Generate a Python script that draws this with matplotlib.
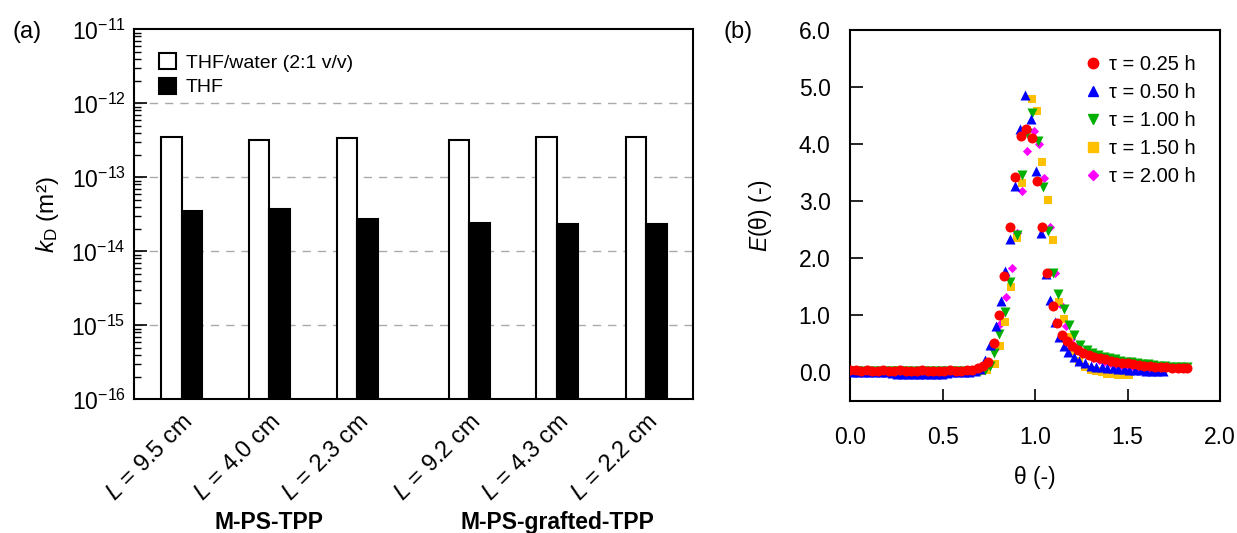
import numpy as np
import matplotlib
matplotlib.use("Agg")
import matplotlib.pyplot as plt
from matplotlib.lines import Line2D
from matplotlib.transforms import blended_transform_factory

plt.rcParams['font.family'] = ['Liberation Sans', 'DejaVu Sans']
plt.rcParams['mathtext.fontset'] = 'custom'
plt.rcParams['mathtext.rm'] = 'Liberation Sans'
plt.rcParams['mathtext.it'] = 'Liberation Sans:italic'
plt.rcParams['mathtext.bf'] = 'Liberation Sans:bold'

# (a) permeability data
lengths = ["9.5", "4.0", "2.3", "9.2", "4.3", "2.2"]
kd_mixed = [3.5e-13, 3.2e-13, 3.4e-13, 3.2e-13, 3.5e-13, 3.5e-13]
kd_thf = [3.5e-14, 3.7e-14, 2.7e-14, 2.4e-14, 2.3e-14, 2.3e-14]
groups = ["M-PS-TPP", "M-PS-grafted-TPP"]

# (b) residence time distribution data
red_theta = [0.00, 0.03, 0.06, 0.09, 0.12, 0.15, 0.18, 0.21, 0.24, 0.27, 0.30, 0.33, 0.36,
             0.39, 0.42, 0.45, 0.48, 0.51, 0.54, 0.57, 0.60, 0.63, 0.66, 0.69, 0.72,
             0.747, 0.779, 0.806, 0.833, 0.862, 0.890, 0.922, 0.950, 0.981, 1.008, 1.036,
             1.065, 1.096, 1.121, 1.146,
             1.17, 1.20, 1.23, 1.26, 1.29, 1.32, 1.35, 1.38, 1.41, 1.44, 1.47, 1.50, 1.53,
             1.56, 1.59, 1.62, 1.65, 1.68, 1.71, 1.74, 1.77, 1.80, 1.82]
red_E = [0.04, 0.04, 0.03, 0.04, 0.03, 0.03, 0.04, 0.03, 0.03, 0.04, 0.03, 0.03, 0.03,
         0.04, 0.03, 0.03, 0.03, 0.03, 0.04, 0.03, 0.03, 0.04, 0.05, 0.07, 0.11,
         0.19, 0.51, 1.00, 1.70, 2.56, 3.43, 4.15, 4.28, 4.11, 3.36, 2.55,
         1.74, 1.16, 0.86, 0.65,
         0.55, 0.46, 0.40, 0.35, 0.31, 0.28, 0.25, 0.23, 0.21, 0.19, 0.17, 0.16, 0.15,
         0.13, 0.12, 0.11, 0.10, 0.10, 0.09, 0.08, 0.08, 0.07, 0.07]

blue_theta = [0.015, 0.045, 0.075, 0.105, 0.135, 0.165, 0.195, 0.225, 0.255, 0.285, 0.315,
              0.345, 0.375, 0.405, 0.435, 0.465, 0.495, 0.525, 0.555, 0.585, 0.615, 0.645,
              0.675, 0.705,
              0.729, 0.758, 0.788, 0.814, 0.838, 0.864, 0.891, 0.916, 0.948, 0.977, 1.003,
              1.031, 1.060, 1.083, 1.107, 1.131, 1.155,
              1.18, 1.21, 1.24, 1.27, 1.30, 1.33, 1.36, 1.39, 1.42, 1.45, 1.48, 1.51, 1.54,
              1.57, 1.60, 1.63, 1.66, 1.69]
blue_E = [0.01, 0.01, 0.00, 0.00, 0.01, 0.00, 0.00, -0.01, -0.02, -0.02, -0.02,
          -0.03, -0.02, -0.03, -0.03, -0.03, -0.02, -0.01, 0.00, 0.00, 0.01, 0.01,
          0.02, 0.06,
          0.22, 0.48, 0.81, 1.25, 1.78, 2.35, 3.28, 4.27, 4.86, 4.44, 3.54,
          2.44, 1.72, 1.27, 0.89, 0.63, 0.47,
          0.36, 0.27, 0.20, 0.16, 0.12, 0.10, 0.09, 0.08, 0.07, 0.06, 0.06, 0.05, 0.04,
          0.04, 0.03, 0.03, 0.02, 0.02]

green_theta = [0.01, 0.04, 0.07, 0.10, 0.13, 0.16, 0.19, 0.22, 0.25, 0.28, 0.31, 0.34, 0.37,
               0.40, 0.43, 0.46, 0.49, 0.52, 0.55, 0.58, 0.61, 0.64, 0.67, 0.70, 0.73,
               0.755, 0.779, 0.806, 0.837, 0.867, 0.900, 0.927, 0.954, 0.981, 1.017, 1.045,
               1.070, 1.097, 1.125, 1.155, 1.184, 1.209, 1.245,
               1.28, 1.31, 1.34, 1.37, 1.40, 1.43, 1.46, 1.49, 1.52, 1.55, 1.58, 1.61, 1.64,
               1.67, 1.70, 1.73, 1.76, 1.79, 1.82]
green_E = [0.02, 0.02, 0.02, 0.03, 0.02, 0.02, 0.02, 0.02, 0.03, 0.02, 0.02, 0.02, 0.02,
           0.02, 0.02, 0.02, 0.02, 0.02, 0.02, 0.02, 0.02, 0.02, 0.02, 0.03, 0.05,
           0.12, 0.34, 0.67, 1.06, 1.58, 2.42, 3.46, 4.20, 4.56, 4.06, 3.26,
           2.49, 1.75, 1.38, 1.12, 0.83, 0.65, 0.48,
           0.40, 0.35, 0.31, 0.28, 0.26, 0.23, 0.21, 0.19, 0.18, 0.16, 0.15, 0.14, 0.13,
           0.12, 0.11, 0.10, 0.10, 0.09, 0.09]

gold_theta = [0.02, 0.05, 0.08, 0.11, 0.14, 0.17, 0.20, 0.23, 0.26, 0.29, 0.32, 0.35, 0.38,
              0.41, 0.44, 0.47, 0.50, 0.53, 0.56, 0.59, 0.62, 0.65, 0.68, 0.71, 0.74,
              0.782, 0.810, 0.837, 0.868, 0.905, 0.932, 0.959, 0.986, 1.013, 1.038, 1.069,
              1.098, 1.128, 1.155, 1.183,
              1.21, 1.24, 1.27, 1.30, 1.33, 1.36, 1.39, 1.42, 1.45, 1.48, 1.51]
gold_E = [0.03, 0.03, 0.03, 0.03, 0.03, 0.03, 0.03, 0.03, 0.04, 0.03, 0.03, 0.03, 0.03,
          0.03, 0.03, 0.03, 0.03, 0.02, 0.02, 0.02, 0.02, 0.02, 0.02, 0.03, 0.05,
          0.15, 0.46, 0.89, 1.50, 2.36, 3.32, 4.25, 4.80, 4.59, 3.70, 3.02,
          2.32, 1.23, 0.93, 0.62,
          0.38, 0.20, 0.10, 0.05, 0.02, 0.00, -0.02, -0.03, -0.04, -0.04, -0.04]

magenta_theta = [0.025, 0.055, 0.085, 0.115, 0.145, 0.175, 0.205, 0.235, 0.265, 0.295, 0.325,
                 0.355, 0.385, 0.415, 0.445, 0.475, 0.505, 0.535, 0.565, 0.595, 0.625,
                 0.655, 0.685, 0.715,
                 0.752, 0.782, 0.812, 0.842, 0.873, 0.902, 0.931, 0.959, 0.993, 1.019,
                 1.047, 1.080, 1.107, 1.135, 1.165, 1.195,
                 1.225, 1.255, 1.285, 1.315, 1.345, 1.375, 1.405, 1.435, 1.465, 1.495,
                 1.525, 1.555, 1.585, 1.615]
magenta_E = [0.03, 0.03, 0.03, 0.03, 0.03, 0.03, 0.03, 0.03, 0.03, 0.03, 0.03,
             0.03, 0.03, 0.03, 0.03, 0.03, 0.03, 0.03, 0.03, 0.03, 0.03,
             0.03, 0.04, 0.06,
             0.15, 0.42, 0.85, 1.32, 1.83, 2.45, 3.19, 3.89, 4.23, 4.00,
             3.42, 2.55, 1.75, 1.20, 0.82, 0.58,
             0.45, 0.36, 0.30, 0.26, 0.22, 0.19, 0.17, 0.15, 0.13, 0.12,
             0.11, 0.10, 0.09, 0.08]

tau_labels = ["τ = 0.25 h", "τ = 0.50 h", "τ = 1.00 h", "τ = 1.50 h", "τ = 2.00 h"]

fig = plt.figure(figsize=(12.37, 5.33), dpi=100)
ax1 = fig.add_axes([0.1083, 0.2508, 0.4519, 0.6942])
ax2 = fig.add_axes([0.6872, 0.2477, 0.2991, 0.6951])

# ---- panel (a)
pos = np.array([0, 1, 2, 3.28, 4.28, 5.3])
w = 0.235
ax1.bar(pos - w / 2, kd_mixed, w, color='white', edgecolor='black', linewidth=1.5,
        zorder=3, bottom=1e-16, label="THF/water (2:1 v/v)")
ax1.bar(pos + w / 2, kd_thf, w, color='black', edgecolor='black', linewidth=1.5,
        zorder=3, bottom=1e-16, label="THF")
ax1.set_yscale('log')
ax1.set_ylim(1e-16, 1e-11)
ax1.set_xlim(-0.545, 5.83)
for yv in [1e-12, 1e-13, 1e-14, 1e-15]:
    ax1.axhline(yv, color='#aaaaaa', linestyle=(0, (6, 5)), linewidth=1.0, zorder=1)
ax1.set_xticks(pos)
ax1.set_xticklabels([r"$L$ = " + s + " cm" for s in lengths], rotation=45,
                    ha='right', rotation_mode='anchor', fontsize=17)
ax1.tick_params(axis='x', length=0, pad=8)
ax1.tick_params(axis='y', which='major', direction='in', length=9, width=1.2,
                labelsize=16.5, pad=6)
ax1.tick_params(axis='y', which='minor', direction='in', length=5, width=1.0)
ax1.set_ylabel(r"$k_{\mathrm{D}}$ (m²)", fontsize=17.5)
ax1.yaxis.set_label_coords(-0.13, 0.5)
for sp in ax1.spines.values():
    sp.set_linewidth(1.5)
ax1.legend(loc='upper left', bbox_to_anchor=(0.03, 0.957), frameon=False,
           fontsize=14, handlelength=0.9, handleheight=0.9, handletextpad=0.5,
           labelspacing=0.3, borderaxespad=0)
trans = blended_transform_factory(ax1.transData, fig.transFigure)
ax1.text(np.mean(pos[:3]), 0.019, groups[0], transform=trans, ha='center',
         va='center', fontsize=16.5, fontweight='bold')
ax1.text(np.mean(pos[3:]), 0.019, groups[1], transform=trans, ha='center',
         va='center', fontsize=16.5, fontweight='bold')

# ---- panel (b)
series = [
    (magenta_theta, magenta_E, '#ff00ff', 'D', 22),
    (gold_theta, gold_E, '#ffc000', 's', 38),
    (green_theta, green_E, '#00b000', 'v', 52),
    (blue_theta, blue_E, '#0000ff', '^', 52),
    (red_theta, red_E, '#ff0000', 'o', 52),
]
for th, ev, col, mk, sz in series:
    ax2.scatter(th, ev, s=sz, c=col, marker=mk, linewidths=0, zorder=3)
ax2.set_xlim(0, 2.0)
ax2.set_ylim(-0.5, 6.0)
ax2.set_xticks([0.0, 0.5, 1.0, 1.5, 2.0])
ax2.set_yticks([0, 1, 2, 3, 4, 5, 6])
ax2.xaxis.set_major_formatter(matplotlib.ticker.FormatStrFormatter('%.1f'))
ax2.yaxis.set_major_formatter(matplotlib.ticker.FormatStrFormatter('%.1f'))
ax2.tick_params(axis='x', direction='in', length=9, width=1.2, labelsize=16.5, pad=18)
ax2.tick_params(axis='y', direction='in', length=9, width=1.2, labelsize=16.5, pad=14)
ax2.set_xlabel("θ (-)", fontsize=16.5)
ax2.xaxis.set_label_coords(0.5, -0.176)
ax2.set_ylabel(r"$E$(θ) (-)", fontsize=16.5)
ax2.yaxis.set_label_coords(-0.205, 0.5)
for sp in ax2.spines.values():
    sp.set_linewidth(1.5)

handles = [
    Line2D([], [], linestyle='none', marker='o', color='#ff0000', markersize=7.5),
    Line2D([], [], linestyle='none', marker='^', color='#0000ff', markersize=7.5),
    Line2D([], [], linestyle='none', marker='v', color='#00b000', markersize=7.5),
    Line2D([], [], linestyle='none', marker='s', color='#ffc000', markersize=6.5),
    Line2D([], [], linestyle='none', marker='D', color='#ff00ff', markersize=5),
]
ax2.legend(handles, tau_labels, loc='upper right', bbox_to_anchor=(0.955, 0.956),
           frameon=False, fontsize=14.5, handlelength=0.8, handletextpad=0.4,
           labelspacing=0.45, borderaxespad=0)

fig.text(0.010, 0.94, "(a)", fontsize=17, ha='left', va='center')
fig.text(0.585, 0.94, "(b)", fontsize=17, ha='left', va='center')

fig.savefig("out.png", dpi=100)
